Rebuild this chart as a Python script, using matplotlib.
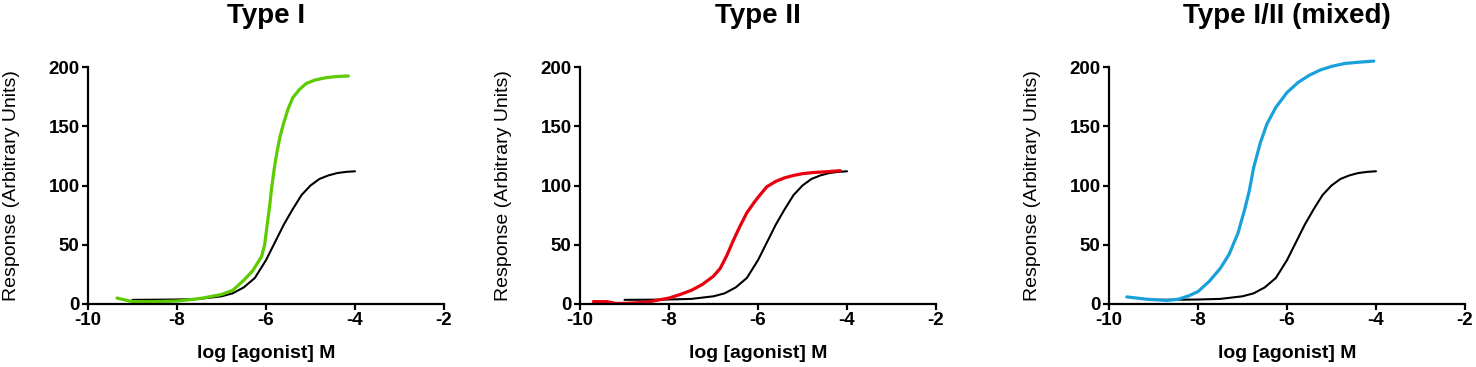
import matplotlib
matplotlib.use("Agg")
import matplotlib.pyplot as plt

# control curve (same in every panel)
control_x = [-9.0, -8.5, -8.0, -7.5, -7.0, -6.75, -6.5, -6.25, -6.0, -5.8, -5.6, -5.4,
             -5.2, -5.0, -4.8, -4.6, -4.4, -4.2, -4.0]
control_y = [3.5, 3.6, 3.8, 4.3, 6.5, 9, 14, 22, 37, 52, 67, 80, 92, 100, 105.5, 108.5,
             110.5, 111.5, 112]

# Type I
type1_x = [-9.35, -9.0, -8.5, -8.0, -7.5, -7.0, -6.75, -6.5, -6.3, -6.2, -6.1, -6.03,
           -5.98, -5.92, -5.87, -5.8, -5.75, -5.68, -5.6, -5.5, -5.4, -5.25, -5.1, -4.9,
           -4.65, -4.4, -4.15]
type1_y = [5, 2, 2, 2.5, 4.5, 8, 11.5, 20, 28, 34, 40, 50, 65, 82, 99, 118, 129, 142, 153,
           165, 174, 181, 186, 189, 191, 192, 192.4]

# Type II
type2_x = [-9.7, -9.4, -9.2, -9.0, -8.5, -8.0, -7.75, -7.5, -7.25, -7.0, -6.85, -6.7,
           -6.55, -6.4, -6.25, -6.1, -6.0, -5.8, -5.6, -5.4, -5.2, -5.0, -4.75, -4.5, -4.15]
type2_y = [2, 2, 0.5, 0.5, 1.5, 5, 8, 11.5, 16.5, 23.5, 30, 41, 54, 66, 77, 85, 90, 99,
           103.5, 106.5, 108.5, 110, 111, 111.5, 112.5]

# Type I/II (mixed)
mixed_x = [-9.6, -9.15, -8.7, -8.45, -8.2, -8.0, -7.75, -7.5, -7.3, -7.1, -6.95, -6.85,
           -6.75, -6.6, -6.45, -6.25, -6.0, -5.75, -5.5, -5.25, -5.0, -4.7, -4.4, -4.05]
mixed_y = [6, 4, 3, 4, 7, 10.5, 19, 30, 42, 60, 80, 95, 115, 136, 152, 166, 178.5, 187,
           193, 197.5, 200.5, 203, 204, 205]

titles = ["Type I", "Type II", "Type I/II (mixed)"]
series = [(type1_x, type1_y, "#5ccb00"), (type2_x, type2_y, "#e8000e"),
          (mixed_x, mixed_y, "#1aa0db")]
lefts = [88, 580, 1109]

plt.rcParams["font.family"] = ["Liberation Sans", "DejaVu Sans"]
plt.rcParams["axes.unicode_minus"] = False

W, H = 1476, 367
fig = plt.figure(figsize=(W / 100, H / 100), dpi=100)

for left, title, (sx, sy, color) in zip(lefts, titles, series):
    ax = fig.add_axes([left / W, 1 - 304 / H, 356 / W, 237 / H])
    ax.plot(control_x, control_y, color="black", lw=1.5, solid_capstyle="round",
            solid_joinstyle="round")
    ax.plot(sx, sy, color=color, lw=2.3, solid_capstyle="round", solid_joinstyle="round",
            clip_on=False)
    ax.set_xlim(-10, -2)
    ax.set_ylim(0, 200)
    ax.set_xticks([-10, -8, -6, -4, -2])
    ax.set_yticks([0, 50, 100, 150, 200])
    for s in ["top", "right"]:
        ax.spines[s].set_visible(False)
    for s in ["left", "bottom"]:
        ax.spines[s].set_linewidth(1.6)
    ax.tick_params(width=1.6, length=4, pad=2, labelsize=13.5)
    for lab in ax.get_xticklabels() + ax.get_yticklabels():
        lab.set_fontweight("bold")
    ax.set_title(title, fontsize=20, fontweight="bold", pad=32)
    ax.set_xlabel("log [agonist] M", fontsize=14, fontweight="bold", va="top")
    ax.xaxis.set_label_coords(0.5, -0.175)
    ax.set_ylabel("Response (Arbitrary Units)", fontsize=14, va="center")
    ax.yaxis.set_label_coords(-0.215, 0.5)

fig.savefig("out.png", dpi=100)
